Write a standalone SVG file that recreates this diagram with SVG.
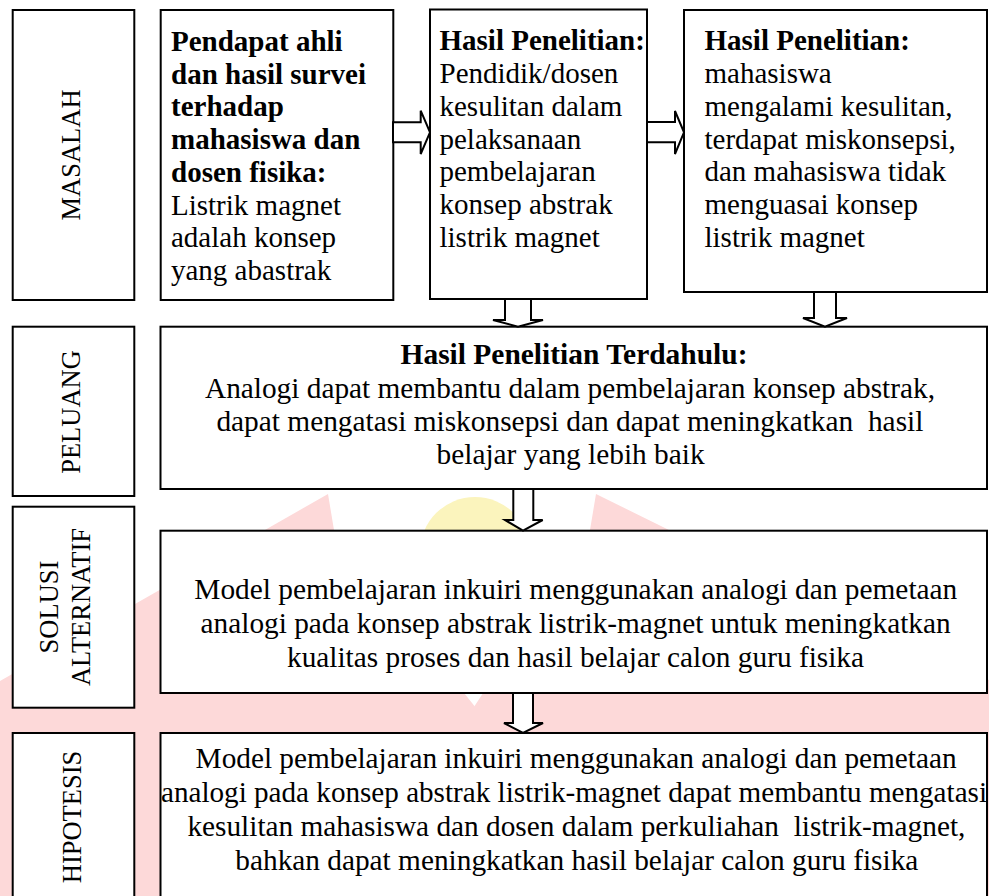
<svg xmlns="http://www.w3.org/2000/svg" width="989" height="896" viewBox="0 0 989 896" font-family="'Liberation Serif', Tinos, 'Times New Roman', 'DejaVu Serif', serif">
<style>
.box{fill:#fff;stroke:#000;stroke-width:2}
.arr{fill:#fff;stroke:#000;stroke-width:2;stroke-linejoin:miter}
.t{font-size:29px;fill:#000}
.b{font-weight:bold}
.lbl{font-size:26.5px;text-anchor:middle;fill:#000}
.c{text-anchor:middle}
.pink{fill:#fdd9d9}
.yel{fill:#fbf4bd}
</style>
<rect width="989" height="896" fill="#fff"/>
<g id="watermark">
<polygon class="pink" points="328,494 334,530 480,713 480,896 0,896 0,681"/>
<polygon class="pink" points="596,494 669,530 989,680 989,896 470,896 470,713 590,530"/>
<circle class="yel" cx="475" cy="552" r="55"/>
</g>
<g id="n-masalah">
<rect class="box" x="12.7" y="10" width="121.6" height="290"/>
<text class="lbl" font-family="'Liberation Serif', serif" transform="translate(80,155) rotate(-90)">MASALAH</text>
</g>
<g id="n-ahli" font-family="'Liberation Serif', serif">
<rect class="box" x="160.7" y="10" width="232.6" height="290"/>
<text class="t b" x="171" y="51">Pendapat ahli</text>
<text class="t b" x="171" y="83.7">dan hasil survei</text>
<text class="t b" x="171" y="116.4">terhadap</text>
<text class="t b" x="171" y="149.1">mahasiswa dan</text>
<text class="t b" x="171" y="181.8">dosen fisika:</text>
<text class="t" x="171" y="214.5">Listrik magnet</text>
<text class="t" x="171" y="247.2">adalah konsep</text>
<text class="t" x="171" y="279.9">yang abastrak</text>
</g>
<g id="n-dosen" font-family="'Liberation Serif', serif">
<rect class="box" x="430" y="9.5" width="217" height="289.5"/>
<text class="t b" x="439.5" y="50">Hasil Penelitian:</text>
<text class="t" x="439.5" y="83">Pendidik/dosen</text>
<text class="t" x="439.5" y="116">kesulitan dalam</text>
<text class="t" x="439.5" y="149">pelaksanaan</text>
<text class="t" x="439.5" y="181">pembelajaran</text>
<text class="t" x="439.5" y="214">konsep abstrak</text>
<text class="t" x="439.5" y="247">listrik magnet</text>
</g>
<g id="n-mahasiswa" font-family="'Liberation Serif', serif">
<rect class="box" x="684" y="10" width="303" height="282"/>
<text class="t b" x="704.5" y="50">Hasil Penelitian:</text>
<text class="t" x="704.5" y="83">mahasiswa</text>
<text class="t" x="704.5" y="116">mengalami kesulitan,</text>
<text class="t" x="704.5" y="149">terdapat miskonsepsi,</text>
<text class="t" x="704.5" y="181">dan mahasiswa tidak</text>
<text class="t" x="704.5" y="214">menguasai konsep</text>
<text class="t" x="704.5" y="247">listrik magnet</text>
</g>
<g id="n-peluang" font-family="'Liberation Serif', serif">
<rect class="box" x="12.7" y="326.7" width="121.6" height="169.3"/>
<text class="lbl" transform="translate(80,412) rotate(-90)">PELUANG</text>
</g>
<g id="n-peluang-isi" font-family="'Liberation Serif', serif">
<rect class="box" x="160.5" y="326.7" width="826.5" height="162.3"/>
<text class="t b c" x="574" y="364" textLength="347" lengthAdjust="spacingAndGlyphs">Hasil Penelitian Terdahulu:</text>
<text class="t" x="205" y="398" textLength="730" lengthAdjust="spacingAndGlyphs">Analogi dapat membantu dalam pembelajaran konsep abstrak,</text>
<text class="t" x="216.4" y="431" textLength="707" lengthAdjust="spacingAndGlyphs" xml:space="preserve">dapat mengatasi miskonsepsi dan dapat meningkatkan  hasil</text>
<text class="t" x="436.6" y="464" textLength="268" lengthAdjust="spacingAndGlyphs">belajar yang lebih baik</text>
</g>
<g id="n-solusi" font-family="'Liberation Serif', serif">
<rect class="box" x="12.7" y="506.7" width="121.6" height="201"/>
<text class="lbl" transform="translate(57.5,607) rotate(-90)">SOLUSI</text>
<text class="lbl" transform="translate(90,607) rotate(-90)">ALTERNATIF</text>
</g>
<g id="n-solusi-isi" font-family="'Liberation Serif', serif">
<rect class="box" x="160.5" y="530.7" width="826.5" height="162.3"/>
<text class="t" x="194.3" y="599" textLength="763" lengthAdjust="spacingAndGlyphs">Model pembelajaran inkuiri menggunakan analogi dan pemetaan</text>
<text class="t" x="200.6" y="633" textLength="750" lengthAdjust="spacingAndGlyphs">analogi pada konsep abstrak listrik-magnet untuk meningkatkan</text>
<text class="t" x="287" y="667" textLength="577" lengthAdjust="spacingAndGlyphs">kualitas proses dan hasil belajar calon guru fisika</text>
</g>
<g id="n-hipotesis" font-family="'Liberation Serif', serif">
<rect class="box" x="12.7" y="733" width="121.6" height="170"/>
<text class="lbl" transform="translate(81,817) rotate(-90)">HIPOTESIS</text>
</g>
<g id="n-hipotesis-isi" font-family="'Liberation Serif', serif">
<rect class="box" x="160.5" y="733" width="826.5" height="170"/>
<text class="t" x="195.6" y="768" textLength="761" lengthAdjust="spacingAndGlyphs">Model pembelajaran inkuiri menggunakan analogi dan pemetaan</text>
<text class="t" x="161" y="802" textLength="826" lengthAdjust="spacingAndGlyphs">analogi pada konsep abstrak listrik-magnet dapat membantu mengatasi</text>
<text class="t" x="187.4" y="836" textLength="778" lengthAdjust="spacingAndGlyphs" xml:space="preserve">kesulitan mahasiswa dan dosen dalam perkuliahan  listrik-magnet,</text>
<text class="t" x="235.3" y="870" textLength="683" lengthAdjust="spacingAndGlyphs">bahkan dapat meningkatkan hasil belajar calon guru fisika</text>
</g>
<g id="connectors">
<polygon class="arr" points="393,122.3 420.7,122.3 420.7,110.7 430,132.3 420.7,154 420.7,142.3 393,142.3"/>
<polygon class="arr" points="647,122 675,122 675,111 684,132.3 675,154 675,142.3 647,142.3"/>
<polygon class="arr" points="505,299 505,320 493,320 518,326.7 543,320 531,320 531,299"/>
<polygon class="arr" points="814,292 814,318 803,318 825,326.7 847,318 836,318 836,292"/>
<polygon class="arr" points="513.3,489 513.3,520 505,520 523,530.7 542.7,520 533.3,520 533.3,489"/>
<polygon class="arr" points="513,693 513,723 504,723 523,733 543,723 533,723 533,693"/>
</g>
</svg>
